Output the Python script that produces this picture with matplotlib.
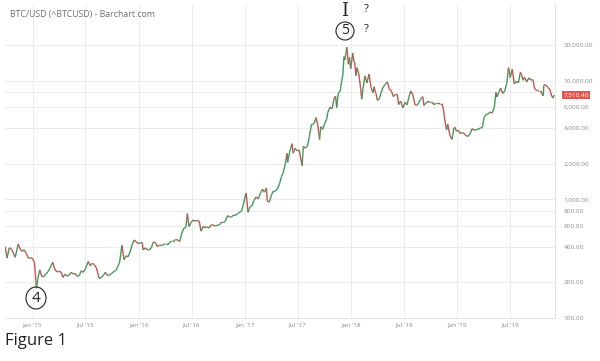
import numpy as np
import pandas as pd
import matplotlib
matplotlib.use('Agg')
import matplotlib.pyplot as plt
import matplotlib.dates as mdates
from matplotlib.collections import LineCollection
from matplotlib.patches import Ellipse
from matplotlib.ticker import FixedLocator, FuncFormatter, NullLocator

# BTC/USD closes (roughly weekly)
dates = ['2014-09-28', '2014-10-05', '2014-10-12', '2014-10-19', '2014-10-26', '2014-11-02',
         '2014-11-12', '2014-11-19', '2014-11-26', '2014-12-03', '2014-12-10', '2014-12-17',
         '2014-12-24', '2014-12-31', '2015-01-07', '2015-01-14', '2015-01-18', '2015-01-25',
         '2015-02-01', '2015-02-08', '2015-02-15', '2015-02-22', '2015-03-01', '2015-03-11',
         '2015-03-18', '2015-03-25', '2015-04-01', '2015-04-08', '2015-04-15', '2015-04-22',
         '2015-04-29', '2015-05-06', '2015-05-13', '2015-05-20', '2015-05-27', '2015-06-03',
         '2015-06-10', '2015-06-17', '2015-06-24', '2015-07-01', '2015-07-11', '2015-07-18',
         '2015-07-25', '2015-08-01', '2015-08-08', '2015-08-18', '2015-08-25', '2015-09-01',
         '2015-09-08', '2015-09-15', '2015-09-22', '2015-09-29', '2015-10-06', '2015-10-13',
         '2015-10-20', '2015-10-27', '2015-11-04', '2015-11-11', '2015-11-18', '2015-11-25',
         '2015-12-02', '2015-12-09', '2015-12-16', '2015-12-23', '2015-12-30', '2016-01-06',
         '2016-01-13', '2016-01-16', '2016-01-23', '2016-01-30', '2016-02-06', '2016-02-13',
         '2016-02-20', '2016-02-27', '2016-03-05', '2016-03-12', '2016-03-19', '2016-03-26',
         '2016-04-02', '2016-04-09', '2016-04-16', '2016-04-23', '2016-04-30', '2016-05-07',
         '2016-05-14', '2016-05-21', '2016-05-28', '2016-06-04', '2016-06-11', '2016-06-16',
         '2016-06-22', '2016-06-29', '2016-07-06', '2016-07-13', '2016-07-20', '2016-07-27',
         '2016-08-02', '2016-08-09', '2016-08-16', '2016-08-23', '2016-08-30', '2016-09-06',
         '2016-09-13', '2016-09-20', '2016-09-27', '2016-10-04', '2016-10-11', '2016-10-18',
         '2016-10-25', '2016-11-01', '2016-11-08', '2016-11-15', '2016-11-22', '2016-11-29',
         '2016-12-06', '2016-12-13', '2016-12-20', '2016-12-27', '2017-01-04', '2017-01-11',
         '2017-01-18', '2017-01-25', '2017-02-01', '2017-02-08', '2017-02-15', '2017-02-22',
         '2017-03-01', '2017-03-08', '2017-03-15', '2017-03-18', '2017-03-25', '2017-04-01',
         '2017-04-08', '2017-04-15', '2017-04-22', '2017-04-29', '2017-05-06', '2017-05-13',
         '2017-05-20', '2017-05-25', '2017-05-27', '2017-06-03', '2017-06-11', '2017-06-15',
         '2017-06-22', '2017-06-29', '2017-07-06', '2017-07-16', '2017-07-20', '2017-07-27',
         '2017-08-03', '2017-08-10', '2017-08-17', '2017-08-24', '2017-08-31', '2017-09-02',
         '2017-09-08', '2017-09-14', '2017-09-18', '2017-09-25', '2017-10-02', '2017-10-09',
         '2017-10-12', '2017-10-20', '2017-10-27', '2017-11-03', '2017-11-08', '2017-11-12',
         '2017-11-17', '2017-11-24', '2017-11-29', '2017-12-03', '2017-12-07', '2017-12-10',
         '2017-12-17', '2017-12-22', '2017-12-26', '2017-12-30', '2018-01-06', '2018-01-10',
         '2018-01-13', '2018-01-17', '2018-01-20', '2018-01-27', '2018-02-01', '2018-02-06',
         '2018-02-10', '2018-02-17', '2018-02-24', '2018-03-03', '2018-03-10', '2018-03-17',
         '2018-03-20', '2018-03-27', '2018-04-01', '2018-04-07', '2018-04-14', '2018-04-21',
         '2018-04-28', '2018-05-05', '2018-05-12', '2018-05-19', '2018-05-26', '2018-06-02',
         '2018-06-09', '2018-06-13', '2018-06-20', '2018-06-28', '2018-07-05', '2018-07-12',
         '2018-07-19', '2018-07-25', '2018-08-01', '2018-08-08', '2018-08-14', '2018-08-21',
         '2018-08-28', '2018-09-04', '2018-09-08', '2018-09-15', '2018-09-22', '2018-09-29',
         '2018-10-06', '2018-10-13', '2018-10-20', '2018-10-27', '2018-11-03', '2018-11-10',
         '2018-11-14', '2018-11-20', '2018-11-25', '2018-11-29', '2018-12-06', '2018-12-14',
         '2018-12-20', '2018-12-24', '2018-12-29', '2019-01-05', '2019-01-10', '2019-01-17',
         '2019-01-24', '2019-01-31', '2019-02-07', '2019-02-14', '2019-02-21', '2019-02-28',
         '2019-03-07', '2019-03-14', '2019-03-21', '2019-03-28', '2019-04-03', '2019-04-10',
         '2019-04-17', '2019-04-24', '2019-05-01', '2019-05-08', '2019-05-14', '2019-05-17',
         '2019-05-24', '2019-05-30', '2019-06-06', '2019-06-13', '2019-06-20', '2019-06-26',
         '2019-06-28', '2019-07-02', '2019-07-09', '2019-07-16', '2019-07-23', '2019-07-30',
         '2019-08-06', '2019-08-10', '2019-08-15', '2019-08-20', '2019-08-28', '2019-09-04',
         '2019-09-11', '2019-09-18', '2019-09-24', '2019-10-01', '2019-10-08', '2019-10-15',
         '2019-10-23', '2019-10-26', '2019-11-01', '2019-11-08', '2019-11-15', '2019-11-22',
         '2019-11-26', '2019-11-30']

closes = [400, 320, 390, 385, 355, 325,
          420, 380, 365, 375, 350, 320,
          322, 318, 295, 178, 210, 255,
          225, 223, 235, 245, 262, 295,
          258, 245, 247, 245, 220, 235,
          225, 230, 242, 236, 237, 225,
          228, 250, 243, 258, 300, 275,
          290, 282, 265, 215, 220, 228,
          243, 229, 230, 237, 246, 250,
          268, 295, 410, 310, 335, 328,
          360, 415, 455, 440, 425, 430,
          433, 375, 390, 378, 375, 390,
          438, 432, 400, 412, 408, 417,
          420, 420, 430, 448, 448, 458,
          455, 442, 520, 572, 580, 760,
          590, 640, 670, 655, 665, 655,
          540, 590, 580, 585, 575, 610,
          608, 598, 605, 610, 640, 638,
          655, 730, 710, 712, 738, 733,
          760, 780, 800, 935, 1130, 780,
          870, 890, 985, 1050, 1010, 1120,
          1220, 1150, 1250, 970, 950, 1080,
          1180, 1180, 1230, 1350, 1560, 1720,
          2050, 2450, 2050, 2500, 2950, 2450,
          2700, 2570, 2600, 1920, 2800, 2700,
          2800, 3400, 4300, 4300, 4700, 4900,
          4200, 3200, 4100, 3900, 4400, 4800,
          5400, 6000, 5800, 7100, 7400, 5950,
          7800, 8200, 9900, 11200, 16000, 15000,
          19200, 13800, 15800, 12600, 17100, 14500,
          14200, 11000, 12900, 11400, 9200, 7000,
          8500, 11000, 9600, 11400, 8800, 7900,
          8900, 7800, 6850, 7000, 8000, 8900,
          9300, 9800, 8500, 8200, 7350, 7700,
          7600, 6300, 6750, 5900, 6600, 6250,
          7400, 8200, 7600, 6300, 6200, 6500,
          7050, 7350, 6200, 6500, 6700, 6600,
          6600, 6300, 6450, 6450, 6400, 6400,
          5700, 4500, 3850, 4300, 3500, 3200,
          4000, 4050, 3750, 3830, 3600, 3650,
          3600, 3450, 3400, 3600, 3950, 3830,
          3870, 3900, 4000, 4050, 4900, 5200,
          5250, 5450, 5350, 5950, 8000, 7300,
          8000, 8700, 7800, 8200, 9500, 12900,
          12400, 10600, 12500, 9400, 9900, 9600,
          11800, 11300, 10100, 10750, 9800, 10600,
          10150, 10200, 8600, 8300, 8200, 8200,
          7450, 9250, 9200, 8800, 8500, 7400,
          7150, 7600]

y_ticks = [100, 200, 400, 600, 800, 1000, 2000, 4000, 6000, 8000, 10000, 20000]
x_ticks = ['2015-01-01', '2015-07-01', '2016-01-01', '2016-07-01', '2017-01-01',
           '2017-07-01', '2018-01-01', '2018-07-01', '2019-01-01', '2019-07-01']
x_labels = ["Jan '15", "Jul '15", "Jan '16", "Jul '16", "Jan '17",
            "Jul '17", "Jan '18", "Jul '18", "Jan '19", "Jul '19"]
last_label = '7,510.40'

up_col = '#3f9a5e'
dn_col = '#c4544e'
grid_col = '#ececec'
txt_col = '#8a8a8a'

plt.rcParams['font.family'] = ['Open Sans', 'DejaVu Sans']

x = mdates.date2num(pd.to_datetime(dates))
y = np.array(closes, dtype=float)

fig = plt.figure(figsize=(6, 3.61), dpi=100)
ax = fig.add_axes([0.008, 0.119, 0.917, 0.867])
ax.set_yscale('log')

segs = [[(x[i], y[i]), (x[i + 1], y[i + 1])] for i in range(len(x) - 1)]
cols = [up_col if y[i + 1] >= y[i] else dn_col for i in range(len(x) - 1)]
ax.add_collection(LineCollection(segs, colors=cols, linewidths=1.0))

ax.set_xlim(mdates.date2num(pd.Timestamp('2014-09-27')), mdates.date2num(pd.Timestamp('2019-12-03')))
ax.set_ylim(100, 43500)


def yfmt(v, p):
    # the 8,000 label sits under the last-price box
    if abs(v - 8000) < 1:
        return ''
    return '{:,.2f}'.format(v)


ax.yaxis.set_major_locator(FixedLocator(y_ticks))
ax.yaxis.set_minor_locator(NullLocator())
ax.yaxis.set_major_formatter(FuncFormatter(yfmt))
ax.yaxis.tick_right()
ax.set_xticks(mdates.date2num(pd.to_datetime(x_ticks)))
ax.set_xticklabels(x_labels)
ax.tick_params(axis='both', length=0, labelsize=4.6, labelcolor=txt_col)
ax.tick_params(axis='y', pad=6)
ax.tick_params(axis='x', pad=3)
ax.grid(True, color=grid_col, linewidth=0.7)
ax.set_axisbelow(True)
for s in ax.spines.values():
    s.set_color('#e2e2e2')
    s.set_linewidth(0.7)
ax.spines['top'].set_visible(False)
ax.spines['left'].set_visible(False)

# last price marker
ax.annotate(last_label, xy=(1.0, y[-1]), xycoords=('axes fraction', 'data'),
            xytext=(6, 0), textcoords='offset points', va='center', ha='left',
            fontsize=4.6, color='white',
            bbox=dict(boxstyle='square,pad=0.25', fc='#e2564f', ec='none'))

fig.text(10 / 600, 1 - 15 / 361, 'BTC/USD (^BTCUSD) - Barchart.com', fontsize=6.3,
         color='#6f6f6f', va='center', ha='left')

# handwritten notes
hand = dict(color='#222222', ha='center', va='center')
fig.text(345 / 600, 1 - 11 / 361, 'I', fontsize=13, family='DejaVu Serif', **hand)
fig.text(366 / 600, 1 - 9 / 361, '?', fontsize=8, **hand)
fig.text(345 / 600, 1 - 31 / 361, '5', fontsize=10, **hand)
fig.add_artist(Ellipse((345 / 600, 1 - 31 / 361), 18 / 600, 18 / 361, transform=fig.transFigure,
                       fill=False, ec='#222222', lw=0.8))
fig.text(366 / 600, 1 - 29 / 361, '?', fontsize=8, **hand)
fig.text(36 / 600, 1 - 298 / 361, '4', fontsize=11, **hand)
fig.add_artist(Ellipse((36 / 600, 1 - 298 / 361), 20 / 600, 22 / 361, transform=fig.transFigure,
                       fill=False, ec='#222222', lw=0.8))
fig.text(5 / 600, 1 - 341 / 361, 'Figure 1', fontsize=12, color='#222222', ha='left', va='center')

fig.savefig('out.png', dpi=100, facecolor='white')
